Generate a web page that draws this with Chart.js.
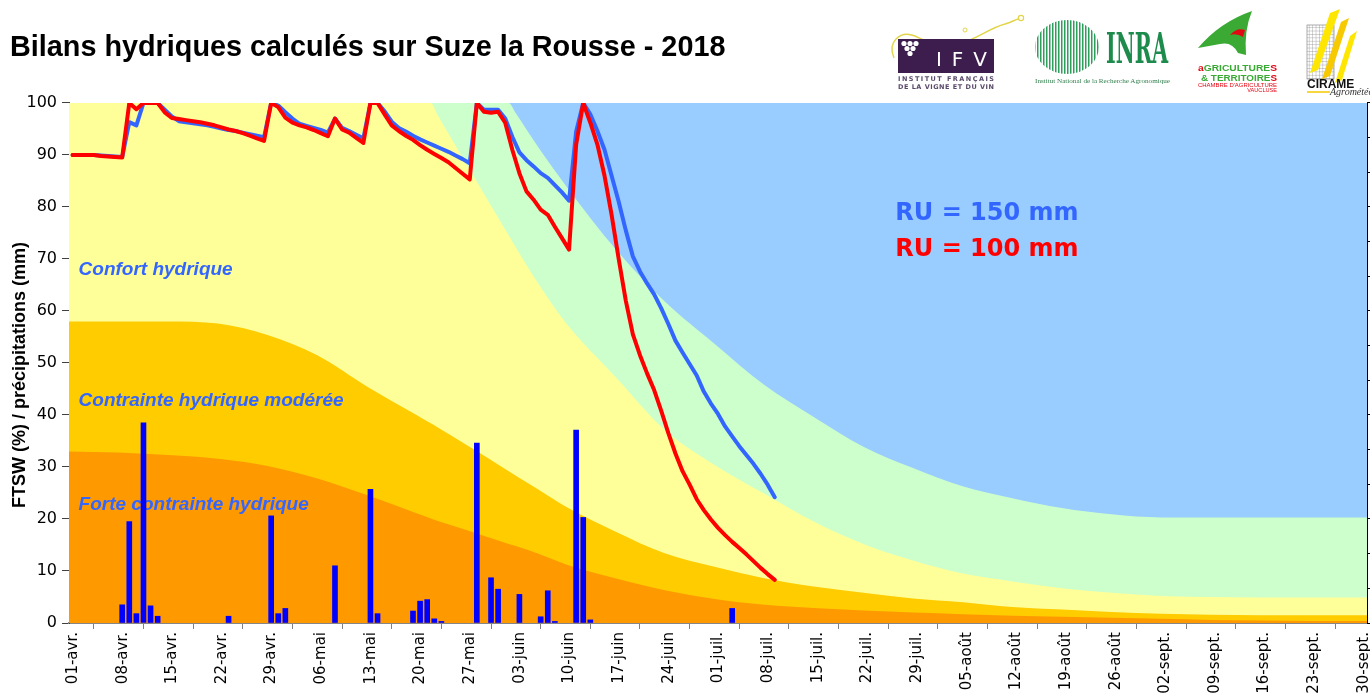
<!DOCTYPE html>
<html><head><meta charset="utf-8">
<script src="https://cdn.jsdelivr.net/npm/chart.js@4.4.1/dist/chart.umd.min.js"></script>
<style>
html,body{margin:0;padding:0;background:#fff;overflow:hidden}
#wrap{position:relative;width:1370px;height:698px}
#c{position:absolute;left:0;top:0;width:1370px;height:698px}
#logos{position:absolute;left:860px;top:0}
</style></head><body>
<div id="wrap">
<canvas id="c" width="1370" height="698"></canvas>
<svg id="logos" width="510" height="100" viewBox="0 0 510 100" xmlns="http://www.w3.org/2000/svg">
 <defs>
  <pattern id="stripes" width="3" height="4" patternUnits="userSpaceOnUse">
   <rect x="0" y="0" width="1.5" height="4" fill="#2E9E5B"/>
  </pattern>
  <pattern id="grid" width="3.4" height="3.4" patternUnits="userSpaceOnUse">
   <path d="M0,0 L3.4,0 M0,0 L0,3.4" stroke="#888" stroke-width="0.7" fill="none"/>
  </pattern>
 </defs>
 <!-- IFV -->
 <path d="M34,58 C27,42 40,30 55,36 C68,42 82,50 100,44 C118,38 130,28 145,24 C151,22 155,20 158,19" fill="none" stroke="#E2D54A" stroke-width="1.5"/>
 <circle cx="161" cy="18" r="2.6" fill="none" stroke="#E2D54A" stroke-width="1.2"/>
 <circle cx="105" cy="30" r="2" fill="none" stroke="#E2D54A" stroke-width="1"/>
 <rect x="38" y="39" width="96" height="34" fill="#3C1D4D"/>
 <g fill="#fff">
  <circle cx="44" cy="43.5" r="2.6"/><circle cx="50" cy="43.5" r="2.6"/><circle cx="56" cy="43.5" r="2.6"/>
  <circle cx="47" cy="48.5" r="2.6"/><circle cx="53" cy="48.5" r="2.6"/><circle cx="50" cy="53.5" r="2.6"/>
 </g>
 <text x="76" y="66" fill="#fff" font-family="DejaVu Sans" font-size="20" textLength="51" lengthAdjust="spacing">IFV</text>
 <text x="38" y="81" font-family="DejaVu Sans" font-size="6.5" font-weight="bold" fill="#5B4A6B" textLength="96" lengthAdjust="spacing">INSTITUT FRANÇAIS</text>
 <text x="38" y="89" font-family="DejaVu Sans" font-size="6.5" font-weight="bold" fill="#5B4A6B" textLength="96" lengthAdjust="spacing">DE LA VIGNE ET DU VIN</text>
 <!-- INRA -->
 <ellipse cx="207" cy="47" rx="32" ry="27" fill="url(#stripes)"/>
 <text x="246" y="63" font-family="DejaVu Serif" font-weight="bold" font-size="42" fill="#1C8B4C" textLength="62" lengthAdjust="spacingAndGlyphs">INRA</text>
 <text x="175" y="83" font-family="Liberation Serif" font-size="5.5" fill="#2E7D4A" textLength="135" lengthAdjust="spacingAndGlyphs">Institut National de la Recherche Agronomique</text>
 <!-- Agricultures & Territoires -->
 <path d="M338,48 Q360,22 392,11 Q384,30 386,55 L378,53 Q372,41 360,44 Z" fill="#3AAA35"/>
 <path d="M370,35 Q377,27 385,30 L383,37 Q377,33 370,35 Z" fill="#E30613"/>
 <text x="338" y="71" font-family="Liberation Sans" font-weight="bold" font-size="9" textLength="79" lengthAdjust="spacingAndGlyphs"><tspan fill="#E30613">a</tspan><tspan fill="#3AAA35">GRICULTURE</tspan><tspan fill="#E30613">S</tspan></text>
 <text x="341" y="81" font-family="Liberation Sans" font-weight="bold" font-size="9" textLength="76" lengthAdjust="spacingAndGlyphs"><tspan fill="#3AAA35">&amp; TERRITOIRE</tspan><tspan fill="#E30613">S</tspan></text>
 <text x="338" y="87" font-family="Liberation Sans" font-size="5.6" fill="#E30613" textLength="79" lengthAdjust="spacingAndGlyphs">CHAMBRE D'AGRICULTURE</text>
 <text x="417" y="92" font-family="Liberation Sans" font-size="5.6" fill="#E30613" text-anchor="end">VAUCLUSE</text>
 <!-- CIRAME -->
 <rect x="447" y="25" width="27" height="54" fill="url(#grid)" stroke="#888" stroke-width="0.7"/>
 <polygon points="470,13 480,9 458,70 450,73" fill="#FFE600"/>
 <polygon points="481,22 489,18 470,76 462,79" fill="#F6C900"/>
 <polygon points="490,36 497,31 482,80 475,83" fill="#FFE600"/>
 <text x="447" y="88" font-family="Liberation Sans" font-weight="bold" font-size="12" fill="#111">CIRAME</text>
 <line x1="447" y1="92" x2="470" y2="92" stroke="#F6C900" stroke-width="1.5"/>
 <text x="470" y="95" font-family="Liberation Serif" font-style="italic" font-size="10" fill="#333">Agrométéo</text>
</svg>
</div>
<script>
// ---------- DATA ----------
const titleText = 'Bilans hydriques calculés sur Suze la Rousse - 2018';
const yTitle = 'FTSW (%) / précipitations (mm)';

// x ticks: day index from 01-avr. (0) every 7 days
const tickDays = [0,7,14,21,28,35,42,49,56,63,70,77,84,91,98,105,112,119,126,133,140,147,154,161,168,175,182];
const tickLabels = ['01-avr.','08-avr.','15-avr.','22-avr.','29-avr.','06-mai','13-mai','20-mai','27-mai','03-juin','10-juin','17-juin','24-juin','01-juil.','08-juil.','15-juil.','22-juil.','29-juil.','05-août','12-août','19-août','26-août','02-sept.','09-sept.','16-sept.','23-sept.','30-sept.'];
const dayCount = 183;

// FTSW series, one value per day from 01-avr.
const ru150 = [90,90,90,90,89.9,89.8,89.7,89.6,96.3,95.7,100,100,100,
  98.7,97.4,96.5,96.3,96.1,95.9,95.7,95.4,95.1,94.8,94.6,94.3,94.0,93.7,93.4,
  100,99.5,98.2,97.0,96.0,95.6,95.2,94.8,94.3,97.0,95.2,94.6,93.9,93.2,
  100,100,98.4,96.4,95.2,94.5,93.7,93.0,92.4,91.8,91.2,90.6,89.9,89.2,88.4,
  100,98.7,98.7,98.7,97.0,93.5,90.5,89.0,87.8,86.5,85.6,84.2,82.8,81.2,94.5,
  100,97.8,94.6,91,86,81,75.5,70.5,67.6,65.3,63.2,60.5,57.5,54.3,52,49.8,47.6,44.5,42.2,40.2,37.8,35.9,34.0,32.3,30.6,28.7,26.6,24.2];
const ru100 = [90,90,90,90,89.8,89.7,89.6,89.5,100,98.8,100,100,100,
  98.2,97.1,96.9,96.7,96.5,96.3,96.0,95.7,95.3,94.9,94.6,94.2,93.7,93.2,92.7,
  100,99.2,97.2,96.2,95.7,95.3,94.8,94.2,93.6,97.0,94.9,94.3,93.3,92.3,
  100,100,97.8,95.7,94.6,93.7,92.9,91.9,91.0,90.2,89.4,88.6,87.5,86.4,85.3,
  100,98.3,98.1,98.3,96.2,91.0,86.5,83.0,81.4,79.5,78.5,76.2,74.0,71.8,92.0,
  100,96.2,92.0,86,78.5,70,62,55.5,51.5,48,44.8,40.8,36.5,32.6,29.2,26.6,23.8,21.7,19.9,18.3,16.9,15.6,14.4,13.2,11.9,10.6,9.4,8.3];

// precipitation (mm): day index and amount
const precipDays = [7,8,9,10,11,12,22,28,29,30,37,42,43,48,49,50,51,52,57,59,60,63,66,67,68,71,72,73,93];
const precipMm   = [3.5,19.5,1.8,38.5,3.3,1.3,1.3,20.6,1.8,2.8,11.0,25.7,1.8,2.3,4.2,4.5,0.8,0.3,34.6,8.7,6.5,5.5,1.2,6.2,0.3,37.1,20.3,0.6,2.8];

// background zone upper limits (sampled days)
const zoneDays     = [0,7,14,21,28,35,42,49,51,52,56,62,63,66,70,77,84,91,98,105,112,119,126,133,140,147,154,161,168,175,183];
const limitGreen   = [100,100,100,100,100,100,100,100,100,100,100,100,98,91.8,84.2,72,61.8,53.7,45.8,39.6,33.9,29.8,26.3,24,22.1,20.9,20.3,20.3,20.3,20.3,20.3];
const limitYellow  = [100,100,100,100,100,100,100,100,100,97.6,88.3,74.5,72.2,65.6,57.8,47.4,37.1,30.4,24.9,19.5,15.2,12.0,9.5,8.0,6.7,5.8,5.2,5.0,4.9,4.9,4.9];
const limitGold    = [58,58,58,57.6,55.4,51.5,45.5,40,38.4,37.6,34.3,29.2,28.3,25.8,22.4,17.6,13.4,10.8,8.6,7.0,5.8,4.7,4.0,3.1,2.6,2.1,1.8,1.6,1.5,1.5,1.5];
const limitOrange  = [33,32.8,32.3,31.6,30.2,27.8,24.6,21.1,20.1,19.6,17.9,15.2,14.8,13.4,11.3,8.6,6.3,4.6,3.5,2.9,2.4,2.0,1.7,1.4,1.2,1.0,0.8,0.6,0.5,0.4,0.4];
const limitBlue    = [100,100];
const blueDays     = [0,183];

const zoneLabels = ['Confort hydrique','Contrainte hydrique modérée','Forte contrainte hydrique'];
const zoneLabelY = [66.9,41.7,21.7];
const ruLabels = ['RU = 150 mm','RU = 100 mm'];
const ruLabelY = [77.5,70.6];

// ---------- CHART ----------
const pts = (xs, ys, shift) => ys.map((v,i) => ({x: xs[i] + shift, y: v}));
const dailyPts = arr => arr.map((v,i) => ({x: i + 0.5, y: v}));
const zone = (data, color, order) => ({
  type: 'line', data, fill: 'origin', backgroundColor: color, borderWidth: 0,
  pointRadius: 0, cubicInterpolationMode: 'monotone', order
});

Chart.defaults.font.family = '"DejaVu Sans", sans-serif';
Chart.defaults.color = '#000';

const textPlugin = {
  id: 'texts',
  afterDatasetDraw(chart, args) {
    if (args.index !== 7) return; // after the orange zone
    const {ctx, scales: {x, y}} = chart;
    ctx.save();
    ctx.textAlign = 'left';
    ctx.textBaseline = 'alphabetic';
    ctx.font = 'italic bold 19px "Liberation Sans", Arial, sans-serif';
    ctx.fillStyle = '#3366FF';
    zoneLabels.forEach((t, i) => ctx.fillText(t, x.getPixelForValue(1.35), y.getPixelForValue(zoneLabelY[i])));
    ctx.font = 'bold 24px "DejaVu Sans", sans-serif';
    ruLabels.forEach((t, i) => {
      ctx.fillStyle = i === 0 ? '#3366FF' : '#FF0000';
      ctx.fillText(t, x.getPixelForValue(116.5), y.getPixelForValue(ruLabelY[i]));
    });
    ctx.restore();
  },
  afterDraw(chart) {
    const {ctx, chartArea} = chart;
    ctx.save();
    ctx.translate(chart.scales.y.left + 10.5, (chartArea.top + chartArea.bottom) / 2 + 12);
    ctx.rotate(-Math.PI / 2);
    ctx.textAlign = 'center';
    ctx.textBaseline = 'middle';
    ctx.fillStyle = '#000';
    ctx.font = 'bold 18px "Liberation Sans", Arial, sans-serif';
    ctx.fillText(yTitle, 0, 0);
    ctx.restore();
  }
};

new Chart(document.getElementById('c'), {
  type: 'line',
  data: {
    datasets: [
      {label: 'RU = 100 mm', data: dailyPts(ru100), borderColor: '#FF0000', borderWidth: 4, pointRadius: 0, tension: 0, fill: false, borderJoinStyle: 'round', borderCapStyle: 'round', order: 0},
      {label: 'RU = 150 mm', data: dailyPts(ru150), borderColor: '#3366FF', borderWidth: 4, pointRadius: 0, tension: 0, fill: false, borderJoinStyle: 'round', borderCapStyle: 'round', order: 1},
      {type: 'bar', label: 'Précipitations', data: pts(precipDays, precipMm, 0.5), backgroundColor: '#0000FF', borderWidth: 0, barThickness: 5, order: 2},
      zone(pts(blueDays, limitBlue, 0), '#99CCFF', 7),
      zone(pts(zoneDays, limitGreen, 0), '#CCFFCC', 6),
      zone(pts(zoneDays, limitYellow, 0), '#FFFF99', 5),
      zone(pts(zoneDays, limitGold, 0), '#FFCC00', 4),
      zone(pts(zoneDays, limitOrange, 0), '#FF9900', 3)
    ]
  },
  options: {
    responsive: false,
    animation: false,
    devicePixelRatio: 1,
    layout: {padding: {left: 10, right: 0, top: 0, bottom: 0}},
    plugins: {
      legend: {display: false},
      tooltip: {enabled: false},
      title: {display: true, text: titleText, align: 'start', color: '#000',
        font: {family: '"Liberation Sans", Arial, sans-serif', size: 28.8, weight: 'bold', lineHeight: 1.2},
        padding: {top: 31, bottom: 37.4}}
    },
    scales: {
      x: {
        type: 'linear', min: 0, max: dayCount, offset: false,
        afterBuildTicks: s => { s.ticks = tickDays.map(v => ({value: v})); },
        afterFit: s => { s.height = 75; s.paddingLeft = 0; s.paddingRight = 0; },
        ticks: {autoSkip: false, maxRotation: 90, minRotation: 90, padding: 3, labelOffset: 4,
          font: {size: 15}, color: '#000', callback: (v, i) => tickLabels[i]},
        grid: {drawOnChartArea: false, drawTicks: true, tickLength: 6, color: '#808080'},
        border: {display: true, color: '#868686', width: 2}
      },
      y: {
        position: 'left', min: 0, max: 100,
        afterFit: s => { s.width = 59; },
        ticks: {stepSize: 10, font: {size: 16}, color: '#000', padding: 5},
        grid: {drawOnChartArea: false, drawTicks: true, tickLength: 7, color: '#404040'},
        border: {display: true, color: '#404040', width: 1}
      },
      y2: {
        position: 'right', min: 0, max: 150,
        afterFit: s => { s.width = 3; },
        ticks: {stepSize: 10, display: false},
        grid: {drawOnChartArea: false, drawTicks: true, tickLength: 4, color: '#000'},
        border: {display: true, color: '#000', width: 1}
      }
    }
  },
  plugins: [textPlugin]
});
</script>
</body></html>
